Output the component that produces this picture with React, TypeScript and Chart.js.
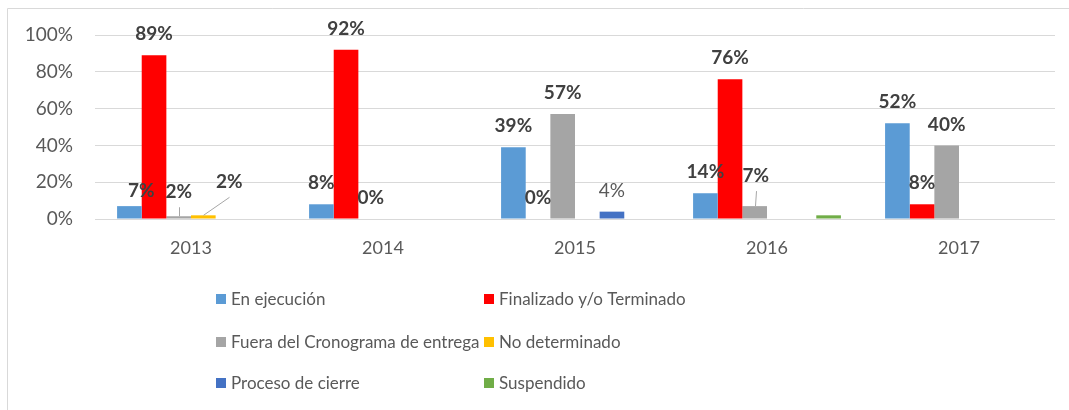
import React, { useEffect, useRef } from 'react';
import { Chart, registerables } from 'chart.js';

Chart.register(...registerables);

// ---- Data ----
const categories = ['2013', '2014', '2015', '2016', '2017'];
const seriesNames = [
  'En ejecución',
  'Finalizado y/o Terminado',
  'Fuera del Cronograma de entrega',
  'No determinado',
  'Proceso de cierre',
  'Suspendido',
];
const enEjecucion: (number | null)[] = [7, 8, 39, 14, 52];
const finalizado: (number | null)[] = [89, 92, 0, 76, 8];
const fueraCronograma: (number | null)[] = [1.5, 0, 57, 7, 40];
const noDeterminado: (number | null)[] = [2, null, null, null, null];
const procesoCierre: (number | null)[] = [null, null, 4, null, null];
const suspendido: (number | null)[] = [null, null, null, 2, null];
const yTickValues = [0, 20, 40, 60, 80, 100];

// ---- Styles ----
const seriesColors = ['#5B9BD5', '#FF0000', '#A5A5A5', '#FFC000', '#4472C4', '#70AD47'];
const FONT = 'Lato';
const TEXT_COLOR = '#595959';
const LABEL_COLOR = '#404040';
const GRID_COLOR = '#D9D9D9';
// series indices whose values get no data label
const unlabeledSeries = [5];
// per-label nudges keyed "series-category"
const labelNudges: Record<string, { dx: number; dy: number; leader?: boolean; weight?: string }> = {
  '0-0': { dx: 12, dy: 6 },
  '2-0': { dx: 0, dy: -3, leader: true },
  '3-0': { dx: 26, dy: -12, leader: true },
  '2-3': { dx: 1, dy: -9, leader: true },
  '4-2': { dx: 0, dy: 0, weight: 'normal' },
};

const frameplugin = {
  id: 'frame',
  beforeDraw(chart: any) {
    const ctx = chart.ctx;
    ctx.save();
    ctx.strokeStyle = GRID_COLOR;
    ctx.lineWidth = 1;
    ctx.beginPath();
    ctx.moveTo(7.5, chart.height);
    ctx.lineTo(7.5, 8.5);
    ctx.lineTo(chart.width, 8.5);
    ctx.stroke();
    ctx.restore();
  },
};

const labelPlugin = {
  id: 'barLabels',
  afterDatasetsDraw(chart: any) {
    const ctx = chart.ctx;
    ctx.save();
    ctx.textAlign = 'center';
    ctx.textBaseline = 'middle';
    chart.data.datasets.forEach((ds: any, si: number) => {
      if (unlabeledSeries.includes(si)) return;
      const meta = chart.getDatasetMeta(si);
      ds.data.forEach((v: number | null, ci: number) => {
        if (v === null || v === undefined) return;
        const el = meta.data[ci];
        if (!el) return;
        const n = labelNudges[`${si}-${ci}`] || { dx: 0, dy: 0 };
        const lx = el.x + n.dx;
        const ly = el.y - 21 + n.dy;
        if (n.leader) {
          ctx.strokeStyle = '#A6A6A6';
          ctx.lineWidth = 1;
          ctx.beginPath();
          ctx.moveTo(Math.round(el.x) + 0.5, el.y);
          ctx.lineTo(Math.round(lx) + 0.5, ly + 15);
          ctx.stroke();
        }
        const w = n.weight || 'bold';
        ctx.font = `${w} 19px ${FONT}`;
        ctx.fillStyle = w === 'bold' ? LABEL_COLOR : TEXT_COLOR;
        ctx.fillText(`${Math.round(v)}%`, lx, ly);
      });
    });
    ctx.restore();
  },
};

const legendPlugin = {
  id: 'gridLegend',
  afterDraw(chart: any) {
    const ctx = chart.ctx;
    const cols = [216, 484];
    const rows = [299, 342, 383];
    ctx.save();
    ctx.font = `17px ${FONT}`;
    ctx.textBaseline = 'middle';
    ctx.textAlign = 'left';
    chart.data.datasets.forEach((ds: any, i: number) => {
      const x = cols[i % 2];
      const y = rows[Math.floor(i / 2)];
      ctx.fillStyle = ds.backgroundColor;
      ctx.fillRect(x, y - 5, 10, 10);
      ctx.fillStyle = TEXT_COLOR;
      ctx.fillText(ds.label, x + 15, y + 1);
    });
    ctx.restore();
  },
};

export default function App() {
  const ref = useRef<HTMLCanvasElement | null>(null);
  useEffect(() => {
    if (!ref.current) return;
    const seriesData = [enEjecucion, finalizado, fueraCronograma, noDeterminado, procesoCierre, suspendido];
    const chart = new Chart(ref.current, {
      type: 'bar',
      data: {
        labels: categories,
        datasets: seriesData.map((d, i) => ({
          label: seriesNames[i],
          data: d,
          backgroundColor: seriesColors[i],
          borderWidth: 0,
          categoryPercentage: 0.77,
          barPercentage: 1,
        })),
      },
      options: {
        animation: false,
        responsive: false,
        layout: { padding: { left: 0, right: 14, top: 35, bottom: 0 } },
        plugins: {
          legend: { display: false },
          tooltip: { enabled: false },
        },
        scales: {
          x: {
            grid: { display: false },
            border: { display: false },
            ticks: { color: TEXT_COLOR, font: { family: FONT, size: 18 }, padding: 10 },
            afterFit: (s: any) => {
              s.height = 191;
            },
          },
          y: {
            min: 0,
            max: 100,
            afterBuildTicks: (s: any) => {
              s.ticks = yTickValues.map((v) => ({ value: v }));
            },
            ticks: {
              color: TEXT_COLOR,
              font: { family: FONT, size: 19 },
              padding: 22,
              callback: (v: any) => `${v}%`,
            },
            grid: { color: GRID_COLOR, drawTicks: false },
            border: { display: false },
            afterFit: (s: any) => {
              s.width = 95;
            },
          },
        },
      },
      plugins: [frameplugin, labelPlugin, legendPlugin],
    });
    return () => chart.destroy();
  }, []);
  return (
    <div style={{ position: 'absolute', left: 0, top: 0, width: 1069, height: 410, background: '#fff' }}>
      <canvas ref={ref} width={1069} height={410} style={{ display: 'block' }} />
    </div>
  );
}
